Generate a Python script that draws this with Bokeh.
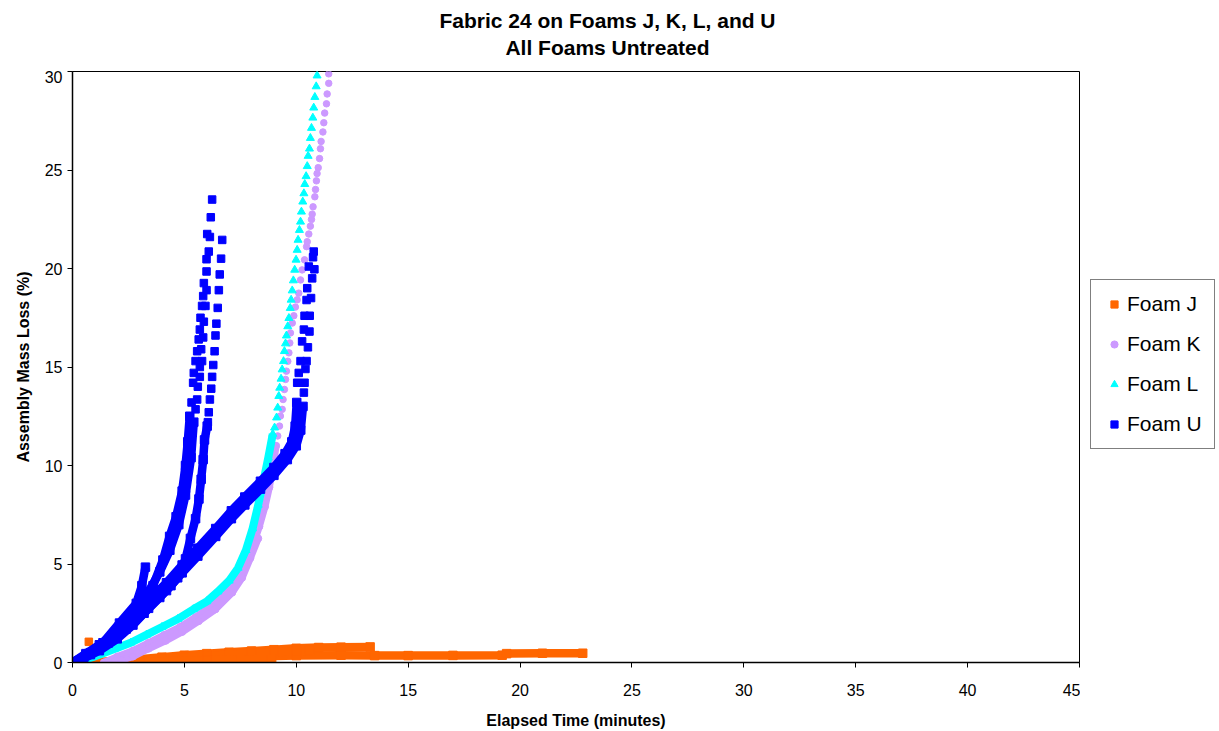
from bokeh.plotting import figure
from bokeh.models import Legend, LegendItem, Range1d, FixedTicker
from bokeh.layouts import row, column
from bokeh.core.properties import value
from bokeh.embed import file_html
from bokeh.resources import INLINE

# ---------------- data (elapsed time in minutes, assembly mass loss in %) ----------------
TITLE_LINES = ["Fabric 24 on Foams J, K, L, and U", "All Foams Untreated"]
X_TICKS = [0, 5, 10, 15, 20, 25, 30, 35, 40, 45]
Y_TICKS = [0, 5, 10, 15, 20, 25, 30]
SERIES = ["Foam J", "Foam K", "Foam L", "Foam U"]

# Foam J runs (dense readings -> continuous band)
J1_t = [1.5, 2.5, 3.5, 4.5, 5.5, 6.5, 8.0, 10.0, 12.0, 13.5, 15.0, 17.0, 19.2, 19.4, 21.0, 22.8]
J1_m = [0.0, 0.05, 0.1, 0.15, 0.2, 0.24, 0.3, 0.35, 0.37, 0.35, 0.35, 0.36, 0.37, 0.45, 0.47, 0.47]
J2_t = [1.2, 2.0, 3.0, 4.0, 5.0, 6.0, 7.0, 8.0, 9.0, 10.0, 11.0, 12.0, 13.3]
J2_m = [0.0, 0.08, 0.17, 0.27, 0.37, 0.45, 0.52, 0.58, 0.65, 0.72, 0.76, 0.78, 0.79]
J3_t = [1.0, 2.0, 3.0, 4.0, 5.0, 6.0, 7.0, 8.0, 9.0, 10.0, 10.6]
J3_m = [0.0, 0.06, 0.12, 0.2, 0.27, 0.33, 0.4, 0.46, 0.52, 0.58, 0.6]
J4_t = [1.5, 3.0, 4.5, 6.0, 7.5, 8.9]
J4_m = [0.0, 0.03, 0.07, 0.12, 0.15, 0.17]
J_dot_t = [0.73]
J_dot_m = [1.05]

# Foam K runs
K1_t = [1.4, 2.0, 2.7, 3.4, 4.1, 4.8, 5.5, 6.2, 6.8, 7.3, 7.7, 8.05, 8.35, 8.6, 8.8, 8.97, 9.1]
K1_m = [0.0, 0.3, 0.6, 1.0, 1.4, 1.8, 2.3, 2.85, 3.45, 4.1, 4.9, 5.9, 6.9, 7.9, 8.9, 10.0, 11.0]
K2_t = [1.6, 2.2, 2.7, 3.4, 4.16, 4.9, 5.64, 6.39, 7.14, 7.58, 7.95, 8.3]
K2_m = [0.0, 0.12, 0.3, 0.7, 1.1, 1.55, 2.1, 2.7, 3.55, 4.3, 5.3, 6.3]
K_dot_t = [9.17, 9.25, 9.29, 9.37, 9.41, 9.47, 9.52, 9.56, 9.62, 9.67, 9.71, 9.74, 9.82, 9.89,
           9.96, 10.04, 10.11, 10.19, 10.26, 10.37, 10.46, 10.49, 10.56, 10.63, 10.68, 10.71,
           10.75, 10.83, 10.86, 10.90, 10.93, 10.98, 11.04, 11.08, 11.11, 11.19, 11.23, 11.27,
           11.35, 11.38, 11.45, 11.45]
K_dot_m = [11.50, 12.00, 12.51, 12.85, 13.35, 13.86, 14.37, 14.79, 15.29, 15.72, 16.22, 16.73,
           17.23, 17.60, 18.04, 18.41, 18.75, 19.42, 19.93, 20.44, 21.11, 21.36, 21.75, 22.15,
           22.49, 22.76, 23.13, 23.64, 24.01, 24.45, 24.82, 25.12, 25.58, 26.08, 26.45, 26.93,
           27.40, 27.89, 28.36, 28.86, 29.40, 29.88]

# Foam L run
L1_t = [0.1, 0.6, 1.2, 1.9, 2.6, 3.3, 4.0, 4.7, 5.4, 6.0, 6.5, 7.0, 7.4, 7.75, 8.05, 8.3, 8.55, 8.75, 8.95]
L1_m = [0.0, 0.15, 0.4, 0.7, 1.0, 1.4, 1.8, 2.2, 2.7, 3.1, 3.6, 4.15, 4.8, 5.7, 6.8, 8.0, 9.3, 10.4, 11.6]
L_dot_t = [9.03, 9.12, 9.17, 9.22, 9.26, 9.32, 9.37, 9.43, 9.47, 9.52, 9.56, 9.62, 9.67, 9.73,
           9.77, 9.82, 9.87, 9.93, 9.99, 10.04, 10.08, 10.14, 10.19, 10.23, 10.29, 10.34, 10.38,
           10.44, 10.49, 10.53, 10.59, 10.63, 10.68, 10.74, 10.78, 10.83, 10.89, 10.93]
L_dot_m = [11.92, 12.43, 12.93, 13.52, 13.94, 14.40, 14.87, 15.29, 15.80, 16.19, 16.59, 17.06,
           17.48, 17.99, 18.41, 18.88, 19.39, 19.93, 20.44, 20.94, 21.45, 21.95, 22.37, 22.88,
           23.39, 23.81, 24.28, 24.68, 25.19, 25.71, 26.08, 26.62, 27.13, 27.65, 28.16, 28.70,
           29.24, 29.79]

# Foam U runs
U1_t = [0.0, 0.6, 1.36, 2.1, 2.85, 3.1, 3.26]
U1_m = [0.0, 0.45, 1.0, 2.0, 3.0, 3.9, 4.84]
U2a_t = [0.0, 0.8, 1.6, 2.4, 3.1, 3.6, 4.04, 4.34, 4.63, 4.9, 5.05, 5.15, 5.24]
U2a_m = [0.0, 0.5, 1.0, 1.8, 2.8, 3.9, 5.2, 6.4, 7.4, 8.7, 10.0, 11.2, 12.5]
U2a_dot_t = [5.32, 5.39, 5.42, 5.5, 5.57, 5.64, 5.69, 5.72, 5.79, 5.84, 5.87, 5.99, 5.99, 6.02]
U2a_dot_m = [13.2, 14.2, 14.7, 15.3, 15.8, 16.4, 16.9, 17.5, 18.1, 18.6, 19.26, 19.85, 20.47, 21.75]
U2b_t = [0.0, 0.7, 1.4, 2.1, 2.8, 3.4, 3.9, 4.35, 4.75, 5.05, 5.3, 5.42]
U2b_m = [0.0, 0.45, 1.0, 1.8, 2.7, 3.6, 4.6, 5.7, 7.0, 8.5, 10.4, 12.2]
U2b_dot_t = [5.5, 5.57, 5.6, 5.69, 5.69, 5.79, 5.75, 5.84, 5.87, 5.94, 5.99, 6.09, 6.14, 6.18, 6.24]
U2b_dot_m = [12.85, 13.35, 14.0, 14.5, 15.0, 15.3, 15.9, 16.5, 17.3, 18.1, 18.9, 20.86, 21.6, 22.6, 23.5]
U3_t = [0.0, 0.8, 1.6, 2.4, 3.2, 3.9, 4.4, 4.7, 5.05, 5.27, 5.5, 5.65, 5.75, 5.84, 5.9, 6.02]
U3_m = [0.0, 0.4, 1.0, 1.7, 2.5, 3.3, 3.9, 4.3, 5.26, 6.3, 7.3, 8.3, 9.3, 10.3, 11.3, 12.0]
U3_dot_t = [6.05, 6.09, 6.14, 6.2, 6.24, 6.29, 6.35, 6.39, 6.43, 6.49, 6.54, 6.58, 6.64, 6.69]
U3_dot_m = [12.2, 12.7, 13.35, 13.9, 14.5, 15.1, 15.8, 16.6, 17.2, 18.0, 18.9, 19.7, 20.5, 21.45]
U4_t = [0.0, 0.6, 1.2, 2.0, 2.7, 3.4, 4.2, 4.9, 5.6, 6.4, 7.1, 7.7, 8.4, 9.0, 9.5, 9.8, 9.95, 10.02]
U4_m = [0.0, 0.4, 0.9, 1.6, 2.35, 3.15, 4.05, 4.95, 5.8, 6.8, 7.7, 8.4, 9.2, 9.9, 10.6, 11.2, 12.0, 13.2]
U4_dot_t = [10.04, 10.11, 10.19, 10.26, 10.34, 10.37, 10.46, 10.49, 10.56]
U4_dot_m = [14.2, 14.7, 15.3, 16.3, 16.9, 17.6, 18.4, 19.0, 20.1]
U5_t = [0.0, 0.5, 1.2, 2.0, 2.7, 3.4, 4.2, 4.9, 5.6, 6.4, 7.1, 7.7, 8.4, 9.0, 9.6, 10.0, 10.2, 10.3]
U5_m = [0.0, 0.2, 0.6, 1.2, 1.9, 2.75, 3.65, 4.55, 5.4, 6.4, 7.3, 8.0, 8.8, 9.5, 10.3, 11.0, 11.8, 13.0]
U5_dot_t = [10.34, 10.37, 10.41, 10.46, 10.52, 10.59, 10.6, 10.66, 10.71, 10.81, 10.75, 10.78]
U5_dot_m = [13.7, 14.2, 14.9, 15.3, 16.0, 16.8, 17.6, 18.5, 19.5, 19.96, 20.57, 20.86]

# ---------------- styling ----------------
FONT = "Liberation Sans"
C_J, C_K, C_L, C_U = "#FF6600", "#CC99FF", "#00FFFF", "#0000FF"

# ---- header with the two-line title ----
hd = figure(width=1219, height=70, output_backend="svg", toolbar_location=None,
            x_axis_location=None, y_axis_location=None, min_border=0,
            x_range=Range1d(0, 1219), y_range=Range1d(0, 70))
hd.outline_line_color = None
hd.grid.visible = False
hd.background_fill_color = "white"
hd.border_fill_color = "white"
hd.text(x=[607, 607], y=[50, 23], text=TITLE_LINES, text_align="center", text_baseline="middle",
        text_font=value(FONT), text_font_size="21px", text_font_style="bold", text_color="black")

# ---- main plot ----
p = figure(width=1080, height=661, output_backend="svg", toolbar_location=None,
           x_range=Range1d(0, 45), y_range=Range1d(0, 30), title=None,
           min_border_left=72, min_border_right=1, min_border_top=1, min_border_bottom=67)
p.background_fill_color = "white"
p.border_fill_color = "white"
p.outline_line_color = "black"
p.outline_line_width = 1
p.xgrid.visible = False
p.ygrid.visible = False

for ax in (p.xaxis[0], p.yaxis[0]):
    ax.axis_line_color = "black"
    ax.axis_line_width = 1.5
    ax.major_tick_line_color = "black"
    ax.major_tick_in = 0
    ax.major_tick_out = 5
    ax.minor_tick_line_color = None
    ax.major_label_text_font = FONT
    ax.major_label_text_font_size = "16px"
    ax.major_label_text_color = "black"
    ax.axis_label_text_font = FONT
    ax.axis_label_text_font_size = "16px"
    ax.axis_label_text_font_style = "bold"
    ax.axis_label_text_color = "black"

p.xaxis.ticker = FixedTicker(ticks=X_TICKS)
p.yaxis.ticker = FixedTicker(ticks=Y_TICKS)
p.xaxis.axis_label = "Elapsed Time (minutes)"
p.yaxis.axis_label = "Assembly Mass Loss (%)"
p.xaxis.major_label_standoff = 16
p.xaxis.axis_label_standoff = 13
p.yaxis.axis_label_standoff = 10


def band(ts, ms, color, marker, size):
    p.line(ts, ms, line_color=color, line_width=size, line_join="round")
    p.scatter(ts, ms, marker=marker, size=size, fill_color=color, line_color=color)


def dots(ts, ms, color, marker, size):
    return p.scatter(ts, ms, marker=marker, size=size, fill_color=color, line_color=color)


# Foam J
for ts, ms in ((J1_t, J1_m), (J2_t, J2_m), (J3_t, J3_m), (J4_t, J4_m)):
    band(ts, ms, C_J, "square", 8.5)
dots(J_dot_t, J_dot_m, C_J, "square", 7.5)

# Foam K
for ts, ms in ((K1_t, K1_m), (K2_t, K2_m)):
    band(ts, ms, C_K, "circle", 7)
dots(K_dot_t, K_dot_m, C_K, "circle", 6.5)

# Foam L
band(L1_t, L1_m, C_L, "triangle", 8)
dots(L_dot_t, L_dot_m, C_L, "triangle", 8)

# Foam U
for ts, ms in ((U1_t, U1_m), (U2a_t, U2a_m), (U2b_t, U2b_m), (U3_t, U3_m), (U4_t, U4_m), (U5_t, U5_m)):
    band(ts, ms, C_U, "square", 8.5)
for ts, ms in ((U2a_dot_t, U2a_dot_m), (U2b_dot_t, U2b_dot_m), (U3_dot_t, U3_dot_m),
               (U4_dot_t, U4_dot_m), (U5_dot_t, U5_dot_m)):
    dots(ts, ms, C_U, "square", 7.5)

# ---------------- legend panel (to the right of the plot frame) ----------------
pl = figure(width=139, height=661, output_backend="svg", toolbar_location=None,
            x_axis_location=None, y_axis_location=None, min_border=0,
            x_range=Range1d(0, 1), y_range=Range1d(0, 1))
pl.outline_line_color = None
pl.grid.visible = False
pl.background_fill_color = "white"
pl.border_fill_color = "white"
# legend key glyphs (their single point lies outside this panel's visible range)
lj = pl.scatter(x=[-5], y=[-5], marker="square", size=7, fill_color=C_J, line_color=C_J)
lk = pl.scatter(x=[-5], y=[-5], marker="circle", size=7, fill_color=C_K, line_color=C_K)
ll = pl.scatter(x=[-5], y=[-5], marker="triangle", size=7, fill_color=C_L, line_color=C_L)
lu = pl.scatter(x=[-5], y=[-5], marker="square", size=7, fill_color=C_U, line_color=C_U)

legend = Legend(items=[LegendItem(label=SERIES[0], renderers=[lj]),
                       LegendItem(label=SERIES[1], renderers=[lk]),
                       LegendItem(label=SERIES[2], renderers=[ll]),
                       LegendItem(label=SERIES[3], renderers=[lu])],
                location=(10, 213), border_line_color="black", border_line_width=1,
                background_fill_color="white", background_fill_alpha=1,
                label_text_font=FONT, label_text_font_size="21px", label_text_color="black",
                glyph_width=22, glyph_height=18, label_height=20, spacing=16, padding=12,
                label_standoff=2, margin=0)
pl.add_layout(legend, "center")

layout = column(hd, row(p, pl, spacing=0), spacing=0)
open("out.html", "w").write(file_html(layout, INLINE))
